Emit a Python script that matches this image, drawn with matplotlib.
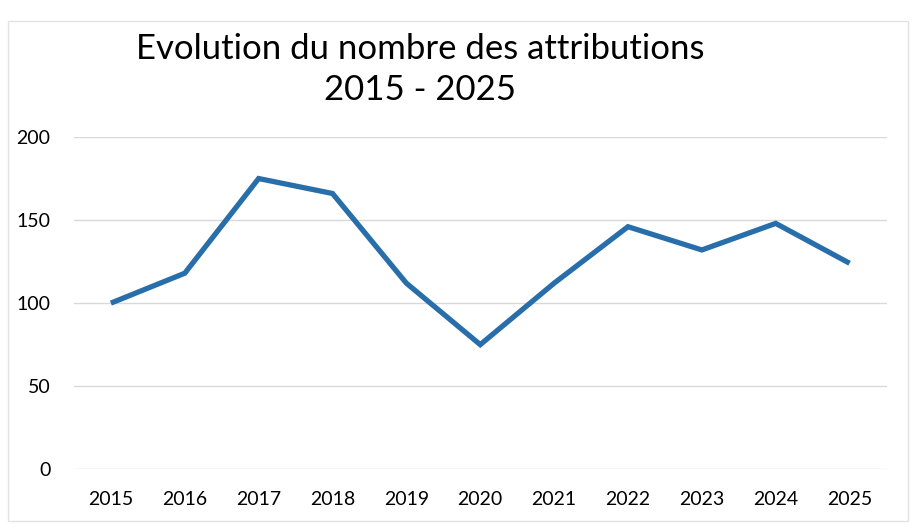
import matplotlib
matplotlib.use('Agg')
import matplotlib.pyplot as plt
from matplotlib.patches import Rectangle

plt.rcParams['font.family'] = ['Lato', 'DejaVu Sans']

years = ['2015', '2016', '2017', '2018', '2019', '2020',
         '2021', '2022', '2023', '2024', '2025']
attributions = [100, 118, 175, 166, 112, 75, 112, 146, 132, 148, 124]
y_ticks = [0, 50, 100, 150, 200]

fig = plt.figure(figsize=(9.13, 5.29), dpi=100)
ax = fig.add_axes([0.081, 0.113, 0.890, 0.628])

x = list(range(len(years)))
ax.plot(x, attributions, color='#286eaa', linewidth=3.8,
        solid_joinstyle='miter', solid_capstyle='butt', zorder=3)

ax.set_xlim(-0.5, len(years) - 0.5)
ax.set_ylim(0, 200)
ax.set_xticks(x)
ax.set_xticklabels(years)
ax.set_yticks(y_ticks)
ax.tick_params(axis='both', length=0, labelsize=14, colors='black')
ax.tick_params(axis='y', pad=17)
ax.tick_params(axis='x', pad=16)

ax.grid(axis='y', color='#d9d9d9', linewidth=1.0)
ax.set_axisbelow(True)
for s in ax.spines.values():
    s.set_visible(False)

fig.text(0.46, 0.908, 'Evolution du nombre des attributions',
         ha='center', va='center', fontsize=25)
fig.text(0.46, 0.830, '2015 - 2025', ha='center', va='center', fontsize=25)

# faint chart-area frame
fig.patches.append(Rectangle((0.009, 0.015), 0.985, 0.945,
                             transform=fig.transFigure, fill=False,
                             edgecolor='#e3e3e3', linewidth=1.0))

fig.savefig('out.png', dpi=100)
